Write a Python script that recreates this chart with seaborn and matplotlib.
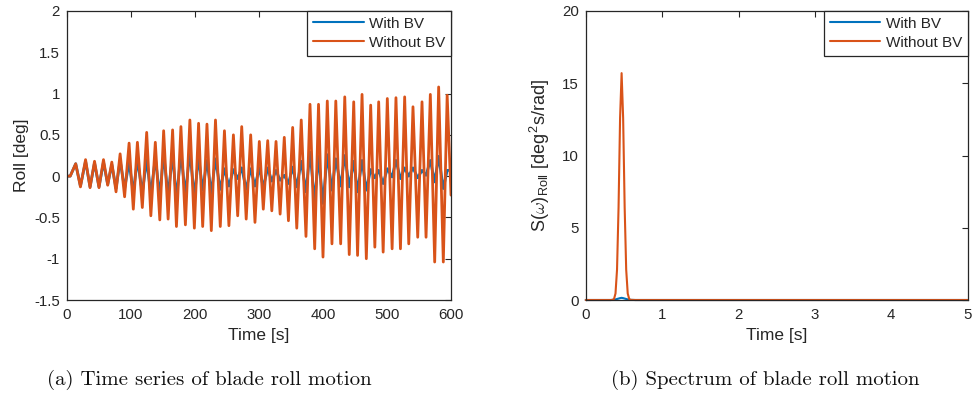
import numpy as np
import pandas as pd
import seaborn as sns
import matplotlib
matplotlib.use("Agg")
import matplotlib.pyplot as plt
from matplotlib.ticker import FuncFormatter

# ---------------- data ----------------
time_s = [0, 5, 13.6, 21, 29, 36, 43, 50, 57, 63.6, 70, 76.6, 83, 90, 97, 103.6,
          110, 117.7, 124.5, 131, 138, 145, 151, 158, 165, 171, 178, 185, 192, 199,
          205.6, 212, 218.7, 225.5, 232, 239.5, 246, 253, 260, 266.7, 273, 280, 287,
          293.7, 300.5, 306.7, 313.6, 320, 326.6, 333, 339.5, 346, 352.6, 359, 366,
          373.4, 379.7, 387, 393, 400, 406.7, 414, 420, 427.6, 434, 441, 448, 454,
          461, 467.7, 474.5, 481, 487, 494, 500.5, 508, 514, 521, 527.6, 534, 540.6,
          548, 554.7, 561, 567.7, 574.5, 580.7, 588, 594, 600]

roll_without_bv = [0, 0.0, 0.15, -0.13, 0.20, -0.14, 0.18, -0.14, 0.20, -0.11, 0.17,
                   -0.19, 0.27, -0.25, 0.40, -0.40, 0.41, -0.38, 0.53, -0.48, 0.41,
                   -0.53, 0.55, -0.52, 0.56, -0.61, 0.60, -0.59, 0.68, -0.63, 0.64,
                   -0.61, 0.63, -0.66, 0.68, -0.61, 0.55, -0.60, 0.50, -0.48, 0.60,
                   -0.52, 0.50, -0.56, 0.42, -0.40, 0.43, -0.42, 0.42, -0.46, 0.47,
                   -0.54, 0.59, -0.63, 0.68, -0.73, 0.87, -0.88, 0.87, -0.98, 0.91,
                   -0.82, 0.91, -0.82, 0.96, -0.95, 0.90, -0.96, 0.99, -1.00, 0.86,
                   -0.86, 0.90, -0.92, 0.94, -0.88, 0.95, -0.88, 0.96, -0.82, 0.84,
                   -0.74, 0.90, -0.74, 0.99, -1.04, 1.08, -1.04, 0.98, -0.23]

roll_with_bv = [0, 0.0, 0.15, -0.12, 0.18, -0.13, 0.16, -0.13, 0.17, -0.10, 0.14,
                -0.15, 0.19, -0.15, 0.17, -0.20, 0.20, -0.20, 0.20, -0.22, 0.22,
                -0.24, 0.26, -0.23, 0.26, -0.27, 0.27, -0.22, 0.29, -0.25, 0.23,
                -0.17, 0.19, -0.21, 0.21, -0.16, 0.09, -0.12, 0.08, -0.03, 0.10,
                -0.16, 0.09, -0.12, 0.10, -0.14, 0.10, -0.06, 0.07, -0.05, 0.01,
                -0.09, 0.11, -0.13, 0.18, -0.19, 0.29, -0.31, 0.24, -0.33, 0.26,
                -0.17, 0.21, -0.12, 0.25, -0.13, 0.18, -0.19, 0.19, -0.17, 0.08,
                -0.02, 0.07, -0.09, 0.09, -0.01, 0.19, -0.03, 0.10, 0.00, 0.10,
                -0.02, 0.07, 0.01, 0.19, -0.07, 0.24, -0.15, 0.07, 0.07]

omega = [0, 0.33, 0.35, 0.37, 0.39, 0.41, 0.43, 0.45, 0.47, 0.49, 0.51, 0.53, 0.55,
         0.57, 0.59, 0.65, 1.0, 2.0, 3.0, 4.0, 5.0]
spec_without_bv = [0, 0, 0.01, 0.06, 0.45, 2.1, 6.4, 12.6, 15.7, 12.6, 6.4, 2.1, 0.45,
                   0.06, 0.01, 0, 0, 0, 0, 0, 0]
spec_with_bv = [0, 0, 0.01, 0.02, 0.04, 0.07, 0.10, 0.13, 0.15, 0.13, 0.10, 0.07, 0.04,
                0.02, 0.01, 0, 0, 0, 0, 0, 0]

series_names = ["With BV", "Without BV"]
roll_yticks = [-1.5, -1, -0.5, 0, 0.5, 1, 1.5, 2]
roll_xticks = [0, 100, 200, 300, 400, 500, 600]
spec_xticks = [0, 1, 2, 3, 4, 5]
spec_yticks = [0, 5, 10, 15, 20]
captions = ["(a) Time series of blade roll motion", "(b) Spectrum of blade roll motion"]

# ---------------- style ----------------
sns.set_theme(style="white")
plt.rcParams["font.family"] = ["Liberation Sans", "DejaVu Sans"]
plt.rcParams["axes.unicode_minus"] = False
plt.rcParams["mathtext.fontset"] = "cm"

blue = "#0072BD"
orange = "#D95319"
axcol = "#262626"

fig = plt.figure(figsize=(9.72, 4.07), dpi=100)
ax1 = fig.add_axes([67 / 972, 107 / 407, 384 / 972, 289 / 407])
ax2 = fig.add_axes([585.7 / 972, 107 / 407, 382 / 972, 289 / 407])

df_t = pd.DataFrame({"t": time_s, series_names[0]: roll_with_bv, series_names[1]: roll_without_bv})
df_s = pd.DataFrame({"w": omega, series_names[0]: spec_with_bv, series_names[1]: spec_without_bv})

for name, col in zip(series_names, [blue, orange]):
    sns.lineplot(data=df_t, x="t", y=name, ax=ax1, color=col, linewidth=2.0,
                 label=name, estimator=None, sort=False)
    sns.lineplot(data=df_s, x="w", y=name, ax=ax2, color=col, linewidth=1.5,
                 label=name, estimator=None, sort=False, clip_on=False)

fmt = FuncFormatter(lambda v, p: f"{v:g}")
for ax in (ax1, ax2):
    for s in ax.spines.values():
        s.set_color(axcol)
        s.set_linewidth(0.9)
    ax.tick_params(direction="in", length=4, width=0.8, colors=axcol,
                   top=True, right=True, labelsize=10.8)
    ax.tick_params(axis="x", pad=6)
    ax.tick_params(axis="y", pad=5)
    ax.xaxis.set_major_formatter(fmt)
    ax.yaxis.set_major_formatter(fmt)
    leg = ax.legend(loc="upper right", fontsize=11, frameon=True, fancybox=False,
                    handlelength=3.3, borderaxespad=0, borderpad=0.38,
                    labelspacing=0.32, handletextpad=0.35)
    for h in leg.get_lines():
        h.set_linewidth(1.5)
    leg.get_frame().set_edgecolor(axcol)
    leg.get_frame().set_linewidth(0.9)
    leg.get_frame().set_alpha(1)

ax1.set_xlim(0, 600)
ax1.set_ylim(-1.5, 2)
ax1.set_xticks(roll_xticks)
ax1.set_yticks(roll_yticks)
ax1.set_xlabel("Time [s]", fontsize=12.5, color=axcol, labelpad=4)
ax1.set_ylabel("Roll [deg]", fontsize=12.5, color=axcol, labelpad=4)

ax2.set_xlim(0, 5)
ax2.set_ylim(0, 20)
ax2.set_xticks(spec_xticks)
ax2.set_yticks(spec_yticks)
ax2.set_xlabel("Time [s]", fontsize=12.5, color=axcol, labelpad=4)
ax2.set_ylabel(r"S($\omega$)$_{\mathregular{Roll}}$ [deg$^{\mathregular{2}}$s/rad]",
               fontsize=13, color=axcol, labelpad=7)

fig.text(209 / 972, 1 - 380 / 407, captions[0], ha="center", va="center",
         fontsize=15, family="cmr10", color="#111111")
fig.text(765 / 972, 1 - 380 / 407, captions[1], ha="center", va="center",
         fontsize=15, family="cmr10", color="#111111")

fig.savefig("out.png", dpi=100)
